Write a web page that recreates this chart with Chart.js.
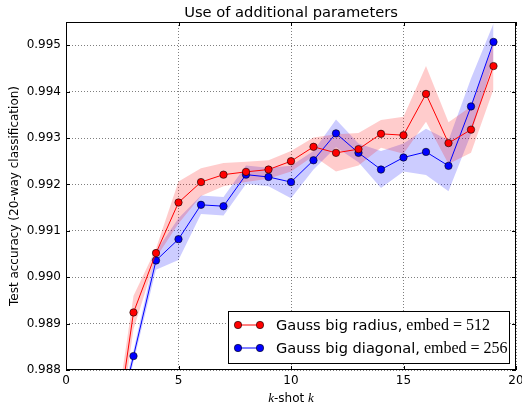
<!DOCTYPE html>
<html>
<head>
<meta charset="utf-8">
<script src="https://cdn.jsdelivr.net/npm/chart.js@4.4.1/dist/chart.umd.min.js"></script>
<style>
  html, body { margin: 0; padding: 0; background: #fff; }
  #wrap { width: 522px; height: 404px; }
</style>
</head>
<body>
<div id="wrap"><canvas id="chart" width="522" height="404"></canvas></div>
<script>
const kShots = [2, 3, 4, 5, 6, 7, 8, 9, 10, 11, 12, 13, 14, 15, 16, 17, 18, 19];
const radiusMean = [0.9859, 0.98924, 0.99052, 0.99161, 0.99205, 0.99221, 0.99227, 0.99232, 0.99250,
                    0.99281, 0.99268, 0.99276, 0.99309, 0.99306, 0.99395, 0.99289, 0.99318, 0.99455];
const radiusStd = [0.0004, 0.00036, 0.0001, 0.00045, 0.0003, 0.00025, 0.00022, 0.0002, 0.00022,
                   0.0002, 0.0004, 0.00035, 0.0003, 0.0004, 0.0006, 0.00045, 0.0005, 0.0005];
const diagMean = [0.9863, 0.98830, 0.99036, 0.99082, 0.99156, 0.99153, 0.99221, 0.99216, 0.99205,
                  0.99252, 0.99310, 0.99268, 0.99232, 0.99258, 0.99270, 0.99240, 0.99368, 0.99507];
const diagStd = [0.0002, 0.00012, 0.0002, 0.00045, 0.0002, 0.0002, 0.0002, 0.0002, 0.00035,
                 0.0002, 0.0003, 0.0002, 0.0004, 0.0003, 0.0005, 0.00055, 0.0006, 0.0004];

const xTicks = [0, 5, 10, 15, 20];
const yTicks = [0.988, 0.989, 0.990, 0.991, 0.992, 0.993, 0.994, 0.995];

const chartTitle = 'Use of additional parameters';
const yTitle = 'Test accuracy (20-way classification)';
const seriesNames = ['Gauss big radius,', 'Gauss big diagonal,'];
const seriesMath = ['embed = 512', 'embed = 256'];
const seriesColors = ['#ff0000', '#0000ff'];

const SANS = '"DejaVu Sans", sans-serif';
const SERIF = '"Liberation Serif", serif';
const MARKER_R = 3.7;

function points(values) {
    return kShots.map((k, i) => ({ x: k, y: values[i] }));
}
function band(mean, std, sign) {
    return kShots.map((k, i) => ({ x: k, y: mean[i] + sign * std[i] }));
}

function meanLine(label, values, color) {
    return {
        label: label,
        data: points(values),
        borderColor: color,
        borderWidth: 1,
        backgroundColor: color,
        pointRadius: MARKER_R,
        pointBorderColor: '#000',
        pointBorderWidth: 0.6,
        pointBackgroundColor: color,
        fill: false,
        tension: 0
    };
}
function bandEdge(values, fillColor, fillTarget) {
    return {
        data: values,
        borderWidth: 0,
        borderColor: 'rgba(0,0,0,0)',
        pointRadius: 0,
        backgroundColor: fillColor,
        fill: fillTarget,
        tension: 0
    };
}

// titles, frame, inward ticks and legend drawn on top
const decorations = {
    id: 'decorations',
    afterDraw(chart) {
        const ctx = chart.ctx;
        const a = chart.chartArea;
        const xs = chart.scales.x, ys = chart.scales.y;
        ctx.save();

        ctx.strokeStyle = '#000';
        ctx.lineWidth = 1;
        ctx.beginPath();
        xTicks.forEach(v => {
            const px = Math.round(xs.getPixelForValue(v)) + 0.5;
            ctx.moveTo(px, a.bottom); ctx.lineTo(px, a.bottom - 4);
            ctx.moveTo(px, a.top); ctx.lineTo(px, a.top + 4);
        });
        yTicks.forEach(v => {
            const py = Math.round(ys.getPixelForValue(v)) + 0.5;
            ctx.moveTo(a.left, py); ctx.lineTo(a.left + 4, py);
            ctx.moveTo(a.right, py); ctx.lineTo(a.right - 4, py);
        });
        ctx.stroke();
        ctx.strokeRect(a.left + 0.5, a.top + 0.5, a.right - a.left - 1, a.bottom - a.top - 1);

        ctx.fillStyle = '#000';
        ctx.textAlign = 'center';
        ctx.textBaseline = 'alphabetic';
        ctx.font = '14.7px ' + SANS;
        ctx.fillText(chartTitle, (a.left + a.right) / 2, 17);

        ctx.save();
        ctx.translate(15, (a.top + a.bottom) / 2);
        ctx.rotate(-Math.PI / 2);
        ctx.font = '12px ' + SANS;
        ctx.textBaseline = 'middle';
        ctx.fillText(yTitle, 0, 0);
        ctx.restore();

        // x title: italic k, "-shot ", italic k
        const parts = [
            { t: 'k', f: 'italic 13px ' + SERIF },
            { t: '-shot ', f: '12px ' + SANS },
            { t: 'k', f: 'italic 13px ' + SERIF }
        ];
        ctx.textAlign = 'left';
        let total = 0;
        parts.forEach(p => { ctx.font = p.f; p.w = ctx.measureText(p.t).width; total += p.w; });
        let tx = (a.left + a.right) / 2 - total / 2;
        parts.forEach(p => { ctx.font = p.f; ctx.fillText(p.t, tx, 402); tx += p.w; });

        // legend
        const box = { x: 228.5, y: 311.5, w: 281, h: 52 };
        ctx.fillStyle = '#fff';
        ctx.fillRect(box.x, box.y, box.w, box.h);
        ctx.strokeStyle = '#000';
        ctx.strokeRect(box.x, box.y, box.w, box.h);
        const rows = [325, 348];
        rows.forEach((ry, i) => {
            const c = seriesColors[i];
            ctx.strokeStyle = c;
            ctx.lineWidth = 1;
            ctx.beginPath();
            ctx.moveTo(238, ry); ctx.lineTo(260, ry);
            ctx.stroke();
            [238, 260].forEach(mx => {
                ctx.beginPath();
                ctx.arc(mx, ry, MARKER_R, 0, Math.PI * 2);
                ctx.fillStyle = c;
                ctx.fill();
                ctx.lineWidth = 0.6;
                ctx.strokeStyle = '#000';
                ctx.stroke();
            });
            ctx.fillStyle = '#000';
            ctx.font = '14.6px ' + SANS;
            ctx.fillText(seriesNames[i], 276, ry + 5);
            const w = ctx.measureText(seriesNames[i]).width + 4;
            ctx.font = '16px ' + SERIF;
            ctx.fillText(seriesMath[i], 276 + w, ry + 5);
        });

        ctx.restore();
    }
};

const ctx = document.getElementById('chart').getContext('2d');
const chart = new Chart(ctx, {
    type: 'line',
    data: {
        datasets: [
            meanLine('Gauss big radius', radiusMean, seriesColors[0]),
            meanLine('Gauss big diagonal', diagMean, seriesColors[1]),
            bandEdge(band(radiusMean, radiusStd, 1), 'rgba(255,0,0,0.2)', '+1'),
            bandEdge(band(radiusMean, radiusStd, -1), 'rgba(255,0,0,0.2)', false),
            bandEdge(band(diagMean, diagStd, 1), 'rgba(0,0,255,0.2)', '+1'),
            bandEdge(band(diagMean, diagStd, -1), 'rgba(0,0,255,0.2)', false)
        ]
    },
    options: {
        responsive: false,
        animation: false,
        events: [],
        layout: {
            padding: { left: 0, right: 6, top: 22, bottom: 0 }
        },
        plugins: {
            legend: { display: false },
            tooltip: { enabled: false },
            filler: { drawTime: 'beforeDatasetsDraw' }
        },
        scales: {
            x: {
                type: 'linear',
                min: 0,
                max: 20,
                afterBuildTicks: s => { s.ticks = xTicks.map(v => ({ value: v })); },
                afterFit: s => { s.height = 34; s.paddingLeft = 0; s.paddingRight = 0; },
                ticks: {
                    color: '#000',
                    font: { family: SANS, size: 12 },
                    padding: 4,
                    maxRotation: 0,
                    callback: v => String(v)
                },
                grid: { color: 'rgba(0,0,0,0.5)', lineWidth: 1, drawTicks: false },
                border: { display: false, dash: [1, 2] }
            },
            y: {
                type: 'linear',
                min: 0.988,
                max: 0.9955,
                afterBuildTicks: s => { s.ticks = yTicks.map(v => ({ value: v })); },
                afterFit: s => { s.width = 66; s.paddingTop = 0; s.paddingBottom = 0; },
                ticks: {
                    color: '#000',
                    font: { family: SANS, size: 12 },
                    padding: 5,
                    callback: v => Number(v).toFixed(3)
                },
                grid: { color: 'rgba(0,0,0,0.5)', lineWidth: 1, drawTicks: false },
                border: { display: false, dash: [1, 2] }
            }
        }
    },
    plugins: [decorations]
});
</script>
</body>
</html>
